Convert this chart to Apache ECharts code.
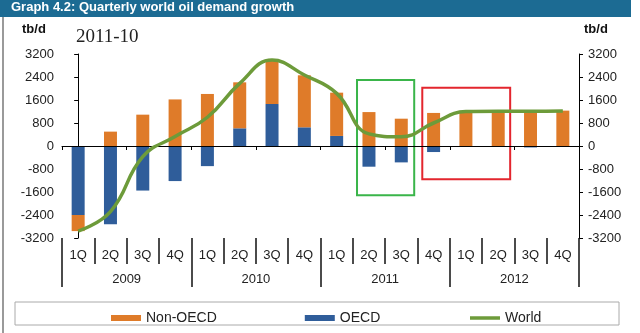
<!DOCTYPE html>
<html>
<head>
<meta charset="utf-8">
<script src="https://cdn.jsdelivr.net/npm/echarts@6/dist/echarts.min.js"></script>
<style>
  html, body { margin: 0; padding: 0; background: #fff; }
  #chart { width: 640px; height: 333px; }
</style>
</head>
<body>
<div id="chart"></div>
<script>
// ---- data ----
const quarters = ['1Q', '2Q', '3Q', '4Q'];
const years = ['2009', '2010', '2011', '2012'];
const nonOECD = [-560, 500, 1090, 1620, 1810, 1600, 1510, 1810, 1505, 1180, 950, 1150, 1220, 1190, 1220, 1230];
const oecd = [-2400, -2720, -1550, -1220, -700, 615, 1460, 650, 350, -720, -570, -210, 0, -20, -50, 0];
const world = [-2960, -2280, -370, 330, 1000, 2180, 2990, 2470, 1830, 420, 320, 800, 1200, 1210, 1210, 1220];
const yMin = -3200, yMax = 3200, yStep = 800;
// annotation boxes (data units: quarter index, tb/d)
const greenBox = [[8.63, 2300], [10.40, -1710]];
const redBox = [[10.65, 2030], [13.37, -1160]];

const categories = [];
years.forEach(y => quarters.forEach(q => categories.push(q + ' ' + y)));

const chart = echarts.init(document.getElementById('chart'), null, { renderer: 'canvas' });
const axisText = { color: '#222', fontSize: 13, fontFamily: 'Liberation Sans, Arial, sans-serif' };

const option = {
  animation: false,
  grid: { left: 62, right: 61, top: 54, bottom: 95, containLabel: false },
  legend: {
    left: 106, top: 306,
    itemWidth: 30, itemHeight: 6, itemGap: 88,
    textStyle: { color: '#222', fontSize: 14, fontFamily: 'Liberation Sans, Arial, sans-serif' },
    data: [
      { name: 'Non-OECD', icon: 'rect' },
      { name: 'OECD', icon: 'rect' },
      { name: 'World', itemStyle: { opacity: 0 }, lineStyle: { width: 3.5, color: '#6D9B3A' } }
    ]
  },
  xAxis: [
    {
      type: 'category', data: categories, position: 'bottom', z: 5,
      axisLine: { onZero: true, lineStyle: { color: '#000', width: 1 } },
      axisTick: { show: true, length: 4, lineStyle: { color: '#000' } },
      axisLabel: { show: false }, splitLine: { show: false }
    },
    {
      type: 'category', data: categories, position: 'bottom', offset: 0,
      axisLine: { show: false, onZero: false },
      axisTick: { show: true, length: 26, lineStyle: { color: '#111', width: 1.5 } },
      axisLabel: Object.assign({ margin: 11, formatter: v => v.split(' ')[0] }, axisText),
      splitLine: { show: false }
    },
    {
      type: 'category', data: years, position: 'bottom', offset: 0,
      axisLine: { show: false, onZero: false },
      axisTick: { show: true, length: 49, lineStyle: { color: '#111', width: 1.5 } },
      axisLabel: Object.assign({ margin: 35 }, axisText),
      splitLine: { show: false }
    },
    { type: 'value', min: -0.5, max: 15.5, show: false }
  ],
  yAxis: [
    {
      type: 'value', position: 'left', min: yMin, max: yMax, interval: yStep,
      axisLine: { show: true, lineStyle: { color: '#000' } },
      axisTick: { show: true, length: 4, lineStyle: { color: '#000' } },
      axisLabel: Object.assign({ margin: 8, formatter: v => String(v) }, axisText),
      splitLine: { show: false }
    },
    {
      type: 'value', position: 'right', min: yMin, max: yMax, interval: yStep,
      axisLine: { show: true, lineStyle: { color: '#000' } },
      axisTick: { show: true, length: 4, lineStyle: { color: '#000' } },
      axisLabel: Object.assign({ margin: 9, formatter: v => String(v) }, axisText),
      splitLine: { show: false }
    }
  ],
  series: [
    { name: 'OECD', type: 'bar', stack: 'd', data: oecd, barWidth: 13, itemStyle: { color: '#2F5D9A' }, z: 2 },
    { name: 'Non-OECD', type: 'bar', stack: 'd', data: nonOECD, barWidth: 13, itemStyle: { color: '#DF7B29' }, z: 2 },
    {
      name: 'World', type: 'line', data: world, smooth: 0.45, showSymbol: false, symbol: 'none', z: 6,
      lineStyle: { color: '#6D9B3A', width: 3.5 }, itemStyle: { color: '#6D9B3A' }
    },
    {
      name: 'boxes', type: 'line', xAxisIndex: 3, yAxisIndex: 0, data: [], z: 7,
      markArea: {
        silent: true,
        itemStyle: { color: 'rgba(0,0,0,0)', borderWidth: 2 },
        data: [
          [{ coord: greenBox[0], itemStyle: { color: 'rgba(0,0,0,0)', borderColor: '#3AB54A', borderWidth: 2 } }, { coord: greenBox[1] }],
          [{ coord: redBox[0], itemStyle: { color: 'rgba(0,0,0,0)', borderColor: '#E3262E', borderWidth: 2 } }, { coord: redBox[1] }]
        ]
      }
    }
  ],
  graphic: [
    { type: 'rect', shape: { x: 0, y: 0, width: 631, height: 17 }, style: { fill: '#1C6B93' }, z: 10 },
    { type: 'text', left: 11, top: 1, style: { text: 'Graph 4.2: Quarterly world oil demand growth', fill: '#fff', font: 'bold 13px Liberation Sans, Arial, sans-serif' }, z: 11 },
    { type: 'line', shape: { x1: 3, y1: 17, x2: 3, y2: 333 }, style: { stroke: '#9a9a9a', lineWidth: 2 }, z: 10 },
    { type: 'text', left: 22, top: 23, style: { text: 'tb/d', fill: '#111', font: 'bold 13px Liberation Sans, Arial, sans-serif' } },
    { type: 'text', left: 584, top: 23, style: { text: 'tb/d', fill: '#111', font: 'bold 13px Liberation Sans, Arial, sans-serif' } },
    { type: 'text', left: 76, top: 28, style: { text: '2011-10', fill: '#222', font: '19px Liberation Serif, Times New Roman, serif' } },
    { type: 'rect', shape: { x: 15, y: 302, width: 604, height: 23 }, style: { fill: '#fff', stroke: '#aaa', lineWidth: 1 }, z: -1 }
  ]
};
chart.setOption(option);
</script>
</body>
</html>
